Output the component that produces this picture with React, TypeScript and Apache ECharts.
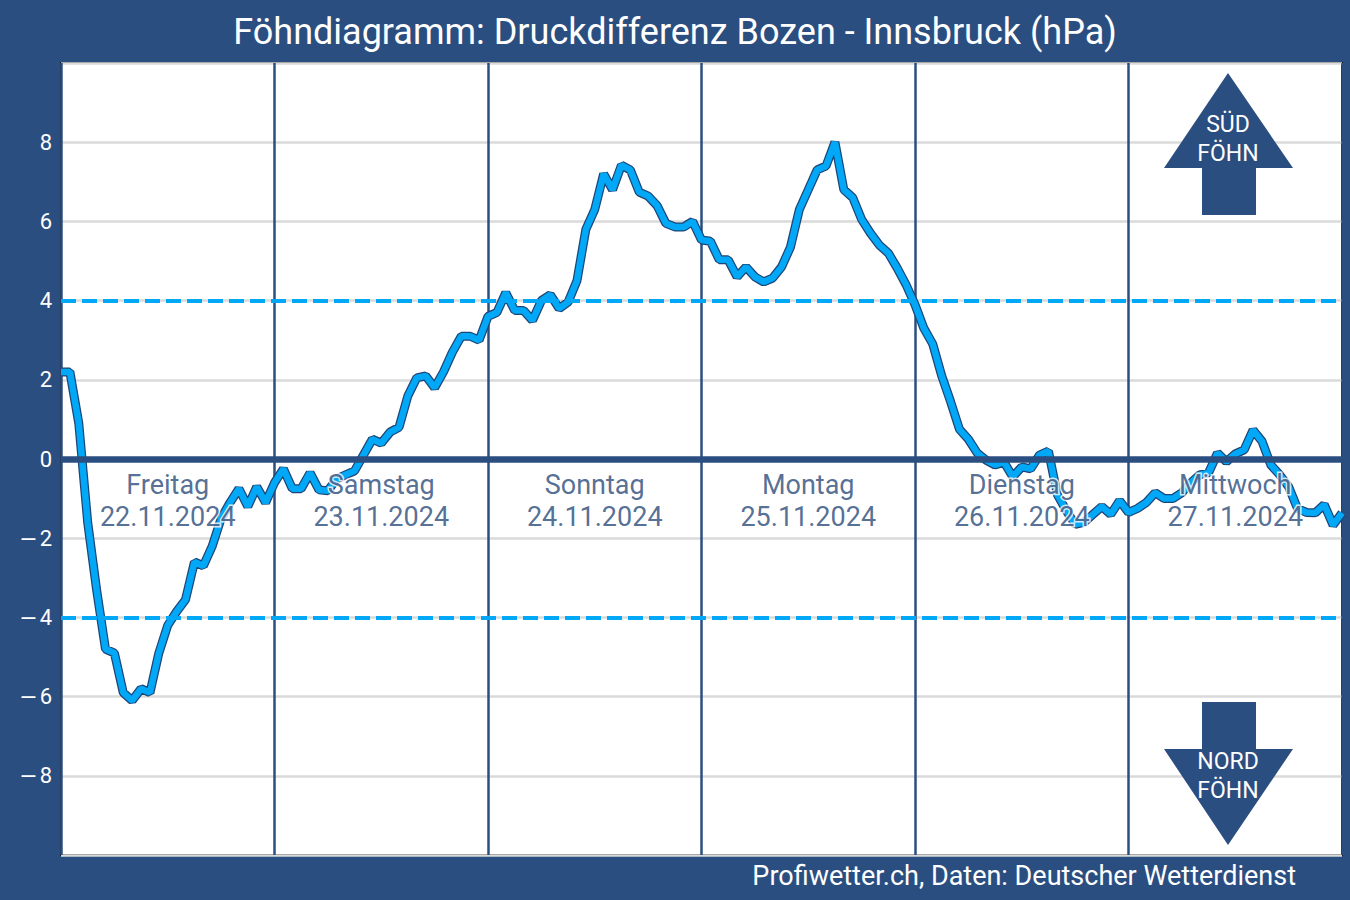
import React, { useEffect, useRef } from "react";
import * as echarts from "echarts";

const BG = "#2b4e80";
const LINE = "#00a8f7";
const OUTLINE = "#1d4676";

// hourly pressure difference Bozen - Innsbruck (hPa), 22.11.2024 00h .. 28.11.2024 00h
const druckdifferenz: number[] = [
  2.2, 2.2, 0.9, -1.6, -3.3, -4.8, -4.9, -5.9, -6.1, -5.8, -5.9, -4.9,
  -4.2, -3.85, -3.55, -2.6, -2.7, -2.2, -1.5, -1.1, -0.75, -1.2, -0.7, -1.1,
  -0.6, -0.25, -0.75, -0.75, -0.35, -0.78, -0.8, -0.5, -0.4, -0.3, 0.1, 0.5,
  0.4, 0.68, 0.8, 1.6, 2.05, 2.1, 1.8, 2.2, 2.7, 3.1, 3.1, 3.0,
  3.6, 3.7, 4.2, 3.75, 3.75, 3.5, 4.0, 4.15, 3.8, 3.96, 4.5, 5.8,
  6.3, 7.2, 6.8, 7.42, 7.3, 6.74, 6.64, 6.4, 5.95, 5.86, 5.86, 6.0,
  5.53, 5.5, 5.03, 5.03, 4.6, 4.85, 4.6, 4.47, 4.57, 4.85, 5.35, 6.3,
  6.8, 7.3, 7.4, 8.0, 6.8, 6.6, 6.05, 5.7, 5.4, 5.2, 4.82, 4.4,
  3.9, 3.3, 2.9, 2.1, 1.45, 0.75, 0.5, 0.15, -0.03, -0.15, -0.08, -0.45,
  -0.2, -0.25, 0.1, 0.2, -0.9, -1.3, -1.65, -1.6, -1.4, -1.2, -1.4, -1.05,
  -1.35, -1.25, -1.1, -0.85, -1.0, -1.0, -0.85, -0.6, -0.4, -0.35, 0.15, -0.07,
  0.13, 0.23, 0.73, 0.45, -0.15, -0.4, -0.7, -1.25, -1.35, -1.36, -1.15, -1.67,
  -1.36,
];

const dayNames = ["Freitag", "Samstag", "Sonntag", "Montag", "Dienstag", "Mittwoch"];
const dayDates = ["22.11.2024", "23.11.2024", "24.11.2024", "25.11.2024", "26.11.2024", "27.11.2024"];
const foehnThresholds = [4, -4];
const zeroLine = [0];

const titleText = "Föhndiagramm: Druckdifferenz Bozen - Innsbruck (hPa)";
const sourceText = "Profiwetter.ch, Daten: Deutscher Wetterdienst";

export default function App() {
  const ref = useRef<HTMLDivElement>(null);

  useEffect(() => {
    if (!ref.current) return;
    const chart = echarts.init(ref.current, null, { renderer: "svg" });
    const lineData = druckdifferenz.map((v, i) => [i, v]);
    const labelData = dayNames.map((n, i) => ({
      value: [i * 24 + 12, -1.05],
      name: n,
      date: dayDates[i],
    }));

    const option: any = {
      animation: false,
      backgroundColor: BG,
      textStyle: { fontFamily: "Roboto" },
      title: {
        text: titleText,
        left: "center",
        top: 9,
        textStyle: { color: "#ffffff", fontSize: 36, fontWeight: "normal", fontFamily: "Roboto" },
      },
      grid: {
        left: 61,
        top: 63,
        width: 1281,
        height: 792,
        show: true,
        backgroundColor: "#ffffff",
        borderColor: "#151515",
        borderWidth: 2,
      },
      xAxis: {
        type: "value",
        min: 0,
        max: 144,
        interval: 24,
        axisLine: { show: false },
        axisTick: { show: false },
        axisLabel: { show: false },
        splitLine: { show: true, lineStyle: { color: BG, width: 2.5 } },
      },
      yAxis: {
        type: "value",
        min: -10,
        max: 10,
        interval: 2,
        axisLine: { show: false },
        axisTick: { show: false },
        axisLabel: {
          color: "#ffffff",
          fontSize: 22,
          fontFamily: "Roboto",
          margin: 9,
          formatter: (v: any) => {
            const n = Number(v);
            if (Math.abs(n) >= 10) return "";
            return n < 0 ? "{m|\u2212}{d|" + Math.abs(n) + "}" : "{d|" + n + "}";
          },
          rich: {
            m: { color: "#ffffff", fontSize: 22, fontFamily: "DejaVu Sans", padding: [0, 2, 0, 0] },
            d: { color: "#ffffff", fontSize: 22, fontFamily: "Roboto" },
          },
        },
        splitLine: { show: true, lineStyle: { color: "#dadada", width: 2.5 } },
      },
      graphic: [
        {
          type: "polygon",
          z: 50,
          shape: {
            points: [
              [1228, 73], [1293, 168], [1256, 168], [1256, 215], [1202, 215], [1202, 168], [1164, 168],
            ],
          },
          style: { fill: BG },
        },
        {
          type: "text",
          z: 51,
          x: 1228,
          y: 139,
          style: {
            text: "SÜD\nFÖHN",
            fill: "#ffffff",
            font: "23px Roboto",
            lineHeight: 29,
            align: "center",
            verticalAlign: "middle",
          },
        },
        {
          type: "polygon",
          z: 50,
          shape: {
            points: [
              [1202, 702], [1256, 702], [1256, 749], [1293, 749], [1228, 845], [1164, 749], [1202, 749],
            ],
          },
          style: { fill: BG },
        },
        {
          type: "text",
          z: 51,
          x: 1228,
          y: 776,
          style: {
            text: "NORD\nFÖHN",
            fill: "#ffffff",
            font: "23px Roboto",
            lineHeight: 29,
            align: "center",
            verticalAlign: "middle",
          },
        },
        {
          type: "text",
          z: 51,
          right: 54,
          top: 862,
          style: {
            text: sourceText,
            fill: "#ffffff",
            font: "27px Roboto",
          },
        },
      ],
      series: [
        {
          type: "line",
          data: lineData,
          z: 3,
          symbol: "none",
          silent: true,
          lineStyle: { color: OUTLINE, width: 9 },
          markLine: {
            silent: true,
            symbol: "none",
            label: { show: false },
            data: [
              ...foehnThresholds.map((t) => ({
                yAxis: t,
                lineStyle: { color: LINE, width: 4, type: [15, 6] },
              })),
              ...zeroLine.map((t) => ({
                yAxis: t,
                lineStyle: { color: BG, width: 6.5, type: "solid" },
              })),
            ],
          },
        },
        {
          type: "line",
          data: lineData,
          z: 4,
          symbol: "none",
          silent: true,
          lineStyle: { color: LINE, width: 6.5 },
        },
        {
          type: "scatter",
          data: labelData,
          z: 10,
          symbolSize: 0,
          silent: true,
          label: {
            show: true,
            position: "inside",
            formatter: (p: any) => `${p.data.name}\n${p.data.date}`,
            color: "#284a7a",
            fontSize: 27,
            fontFamily: "Roboto",
            lineHeight: 32,
            align: "center",
            textBorderColor: "#ffffff",
            textBorderWidth: 3,
          },
        },
      ],
    };
    chart.setOption(option);
    return () => chart.dispose();
  }, []);

  return (
    <div
      ref={ref}
      style={{ position: "fixed", left: 0, top: 0, width: 1350, height: 900 }}
    />
  );
}
